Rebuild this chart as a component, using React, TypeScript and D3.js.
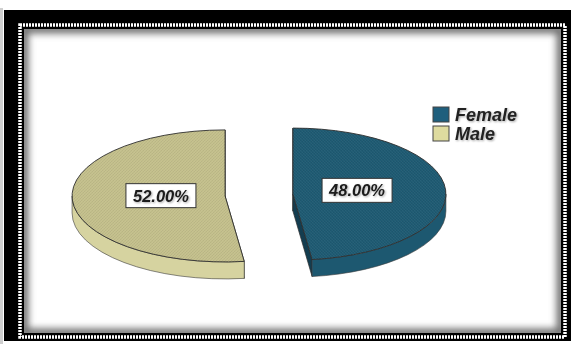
import React from "react";
import * as d3 from "d3";

const categories = ["Female", "Male"];
const values = [48, 52];
const labels = ["48.00%", "52.00%"];
const topColors = ["#1f5b73", "#c4c08c"];
const sideColors = ["#1d5870", "#d6d3a0"];
const wallColors = ["#133d50", "#a9a470"];
const swatchColors = ["#1f5f7d", "#dedb9f"];

const W = 577;
const H = 347;

export default function App() {
  const cx0 = 259;
  const cy0 = 195;
  const rx = 153;
  const ry = 66;
  const depth = 17;
  const explode = 34;

  const pie = d3.pie<number>().sort(null).value((d) => d);
  const arcs = pie(values);

  const pt = (cx: number, cy: number, a: number, dy = 0): [number, number] => [
    cx + rx * Math.sin(a),
    cy - ry * Math.cos(a) + dy,
  ];

  const slices = arcs.map((arc, i) => {
    const mid = (arc.startAngle + arc.endAngle) / 2;
    const cx = cx0 + Math.sin(mid) * explode;
    const cy = cy0 - Math.cos(mid) * explode * (ry / rx);
    const a0 = arc.startAngle;
    const a1 = arc.endAngle;
    const p0 = pt(cx, cy, a0);
    const p1 = pt(cx, cy, a1);
    const large = a1 - a0 > Math.PI ? 1 : 0;
    const top = `M${cx},${cy}L${p0[0]},${p0[1]}A${rx},${ry} 0 ${large} 1 ${p1[0]},${p1[1]}Z`;
    const s = Math.max(a0, Math.PI / 2);
    const e = Math.min(a1, (3 * Math.PI) / 2);
    let side = "";
    if (e > s) {
      const ps = pt(cx, cy, s);
      const pe = pt(cx, cy, e);
      side = `M${ps[0]},${ps[1]}A${rx},${ry} 0 0 1 ${pe[0]},${pe[1]}L${pe[0]},${pe[1] + depth}A${rx},${ry} 0 0 0 ${ps[0]},${ps[1] + depth}Z`;
    }
    const wall = (p: [number, number]) =>
      `M${cx},${cy}L${p[0]},${p[1]}L${p[0]},${p[1] + depth}L${cx},${cy + depth}Z`;
    const lx = cx + Math.sin(mid) * 0.42 * rx;
    const ly = cy - Math.cos(mid) * 0.42 * ry - 2;
    return { i, top, side, walls: [wall(p0), wall(p1)], lx, ly };
  });

  return (
    <svg
      width={W}
      height={H}
      style={{ position: "absolute", left: 0, top: 0 }}
      xmlns="http://www.w3.org/2000/svg"
    >
      <defs>
        <filter id="blur" x="-10%" y="-10%" width="120%" height="120%">
          <feGaussianBlur stdDeviation="3.5" />
        </filter>
        <clipPath id="inner">
          <rect x={24} y={29} width={537} height={304} />
        </clipPath>
        <pattern id="hatch" width="3" height="3" patternUnits="userSpaceOnUse">
          <path d="M0,3L3,0" stroke="rgba(0,0,0,0.07)" strokeWidth="0.8" />
          <path d="M0,0L3,3" stroke="rgba(255,255,255,0.05)" strokeWidth="0.8" />
        </pattern>
        <filter id="tshadow" x="-10%" y="-20%" width="130%" height="160%">
          <feGaussianBlur in="SourceAlpha" stdDeviation="0.8" />
          <feOffset dx="1" dy="1" result="b" />
          <feComponentTransfer>
            <feFuncA type="linear" slope="0.35" />
          </feComponentTransfer>
          <feMerge>
            <feMergeNode />
            <feMergeNode in="SourceGraphic" />
          </feMerge>
        </filter>
      </defs>
      <rect x={0} y={0} width={W} height={H} fill="#ffffff" />
      <rect x={0} y={8} width={3} height={336} fill="#cfcfcf" />
      <rect x={4} y={10} width={567} height={331} fill="#000" />
      <rect x={24} y={29} width={537} height={304} fill="#fff" />
      <g clipPath="url(#inner)">
        <rect
          x={24}
          y={29}
          width={537}
          height={304}
          fill="none"
          stroke="#6e6e6e"
          strokeWidth={9}
          filter="url(#blur)"
        />
      </g>
      <rect
        x={20}
        y={25}
        width={545}
        height={312}
        fill="none"
        stroke="#ffffff"
        strokeWidth={3.5}
        strokeDasharray="2 1"
      />

      {slices.map((s) => (
        <g key={categories[s.i]}>
          {s.walls.map((w, k) => (
            <path key={k} d={w} fill={wallColors[s.i]} stroke="#2b2b2b" strokeWidth={0.7} />
          ))}
          {s.side && (
            <path d={s.side} fill={sideColors[s.i]} stroke="#3a3a3a" strokeWidth={0.6} />
          )}
          <path d={s.top} fill={topColors[s.i]} stroke="#2e2e2e" strokeWidth={0.9} />
          <path d={s.top} fill="url(#hatch)" stroke="none" />
        </g>
      ))}

      {slices.map((s) => (
        <g key={"l" + s.i} transform={`translate(${s.lx},${s.ly})`}>
          <rect x={-35} y={-12} width={70} height={24} fill="#fff" stroke="#333" strokeWidth={1} />
          <text
            x={0}
            y={6}
            textAnchor="middle"
            fontFamily="'Liberation Sans', Arial, sans-serif"
            fontWeight="bold"
            fontStyle="italic"
            fontSize={16.5}
            fill="#1a1a1a"
            filter="url(#tshadow)"
          >
            {labels[s.i]}
          </text>
        </g>
      ))}

      {categories.map((c, i) => (
        <g key={"lg" + c} transform={`translate(433,${107 + i * 19})`}>
          <rect x={0} y={0} width={16} height={15} fill={swatchColors[i]} stroke="#444" strokeWidth={1} />
          <text
            x={22}
            y={14}
            fontFamily="'Liberation Sans', Arial, sans-serif"
            fontWeight="bold"
            fontStyle="italic"
            fontSize={18}
            fill="#222"
            filter="url(#tshadow)"
          >
            {c}
          </text>
        </g>
      ))}
    </svg>
  );
}
